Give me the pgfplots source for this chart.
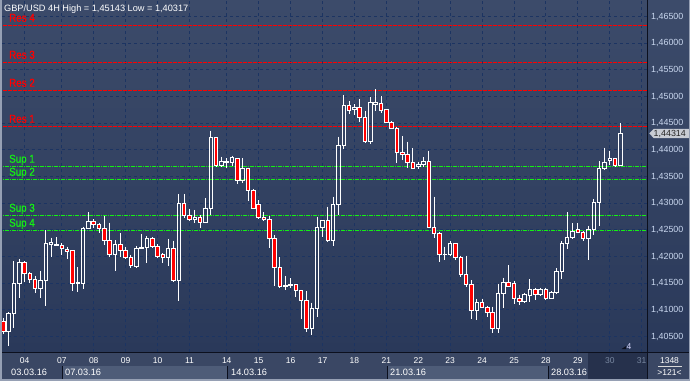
\documentclass[border=0pt]{standalone}
\usepackage{pgfplots}
\pgfplotsset{compat=1.18}
\usepackage{pgfplotstable}
\usepackage{fontspec}
\setmainfont{Liberation Sans}
\newfontfamily\lblfont[FakeStretch=0.86, FakeBold=0.6]{Liberation Sans}
\definecolor{bgtop}{RGB}{60,75,106}
\definecolor{bgbot}{RGB}{42,57,90}
\definecolor{gridc}{RGB}{28,52,98}
\definecolor{lvlred}{RGB}{255,0,0}
\definecolor{lvlgreen}{RGB}{20,240,20}
\definecolor{stripc}{RGB}{58,71,100}
\definecolor{bandc}{RGB}{78,92,120}
\definecolor{futurec}{RGB}{38,49,76}
\definecolor{axlbl}{RGB}{200,214,238}
\definecolor{framec}{RGB}{150,160,180}
\definecolor{sepc}{RGB}{12,16,30}
\definecolor{tagc}{RGB}{200,204,212}
\definecolor{greylbl}{RGB}{120,135,160}

\pgfplotstableread{
i o h l c
0 1.40780 1.40850 1.40550 1.40593
1 1.40593 1.40956 1.40317 1.40938
2 1.40938 1.41918 1.40662 1.41500
3 1.41500 1.41956 1.41230 1.41894
4 1.41894 1.41918 1.41530 1.41688
5 1.41688 1.41718 1.41511 1.41575
6 1.41575 1.41637 1.41313 1.41406
7 1.41406 1.41731 1.41230 1.41562
8 1.41562 1.42500 1.41080 1.42250
9 1.42237 1.42355 1.41999 1.42261
10 1.42218 1.42363 1.42200 1.42237
11 1.42218 1.42261 1.42031 1.42156
12 1.42143 1.42186 1.41956 1.42093
13 1.42106 1.42106 1.41361 1.41500
14 1.41493 1.41800 1.41343 1.41511
15 1.41500 1.42561 1.41393 1.42531
16 1.42531 1.42831 1.42518 1.42668
17 1.42668 1.42700 1.42543 1.42606
18 1.42606 1.42636 1.42438 1.42531
19 1.42531 1.42762 1.42218 1.42299
20 1.42299 1.42636 1.41999 1.42044
21 1.42044 1.42312 1.41736 1.42231
22 1.42231 1.42438 1.41988 1.42106
23 1.42106 1.42175 1.41956 1.41988
24 1.41988 1.42031 1.41781 1.41830
25 1.41811 1.42200 1.41781 1.42156
26 1.42156 1.42425 1.42138 1.42175
27 1.42175 1.42387 1.41875 1.42344
28 1.42344 1.42363 1.42168 1.42186
29 1.42186 1.42237 1.41988 1.41999
30 1.42031 1.42063 1.41875 1.41988
31 1.41988 1.42331 1.41830 1.42156
32 1.42156 1.42299 1.41519 1.41549
33 1.41549 1.43175 1.41174 1.43000
34 1.43000 1.43175 1.42719 1.42768
35 1.42768 1.42893 1.42668 1.42700
36 1.42700 1.42875 1.42625 1.42738
37 1.42738 1.42781 1.42543 1.42636
38 1.42636 1.43094 1.42636 1.42906
39 1.42906 1.44361 1.42781 1.44238
40 1.44238 1.44238 1.43686 1.43705
41 1.43705 1.43874 1.43686 1.43793
42 1.43775 1.43855 1.43668 1.43770
43 1.43769 1.43893 1.43705 1.43855
44 1.43844 1.43844 1.43356 1.43437
45 1.43437 1.43844 1.43375 1.43656
46 1.43656 1.43668 1.43043 1.43231
47 1.43231 1.43268 1.42906 1.42906
48 1.42981 1.43062 1.42706 1.42730
49 1.42738 1.42831 1.42674 1.42700
50 1.42700 1.42762 1.42168 1.42344
51 1.42344 1.42406 1.41455 1.41800
52 1.41800 1.41999 1.41418 1.41436
53 1.41436 1.41637 1.41375 1.41455
54 1.41455 1.41594 1.41406 1.41481
55 1.41481 1.41487 1.41238 1.41361
56 1.41361 1.41375 1.40831 1.41187
57 1.41187 1.41356 1.40593 1.40656
58 1.40656 1.41136 1.40531 1.41031
59 1.41031 1.42749 1.40874 1.42550
60 1.42550 1.42687 1.42374 1.42687
61 1.42687 1.42936 1.42269 1.42299
62 1.42299 1.43124 1.42205 1.42981
63 1.42981 1.44249 1.42781 1.44075
64 1.44075 1.45031 1.44018 1.44825
65 1.44825 1.44918 1.44675 1.44736
66 1.44763 1.44862 1.44656 1.44800
67 1.44800 1.44956 1.44530 1.44613
68 1.44613 1.44731 1.44125 1.44155
69 1.44155 1.44999 1.44106 1.44894
70 1.44862 1.45143 1.44736 1.44894
71 1.44875 1.45012 1.44688 1.44736
72 1.44750 1.44763 1.44500 1.44519
73 1.44519 1.44543 1.44393 1.44406
74 1.44406 1.44436 1.43750 1.43956
75 1.43956 1.44262 1.43812 1.43919
76 1.43919 1.44155 1.43656 1.43769
77 1.43769 1.44031 1.43643 1.43656
78 1.43686 1.43780 1.43638 1.43731
79 1.43731 1.43863 1.43686 1.43780
80 1.43780 1.43981 1.42531 1.42550
81 1.42550 1.43124 1.42344 1.42425
82 1.42425 1.42468 1.41905 1.42044
83 1.42031 1.42186 1.41937 1.42044
84 1.42044 1.42293 1.42021 1.42250
85 1.42250 1.42256 1.41937 1.41988
86 1.41988 1.42018 1.41624 1.41669
87 1.41669 1.42018 1.41436 1.41481
88 1.41481 1.41562 1.40831 1.40986
89 1.40986 1.41200 1.40812 1.41144
90 1.41144 1.41206 1.41031 1.41050
91 1.41050 1.41080 1.40874 1.40949
92 1.40956 1.41061 1.40574 1.40656
93 1.40656 1.41487 1.40574 1.41313
94 1.41313 1.41605 1.41043 1.41519
95 1.41519 1.41843 1.41436 1.41436
96 1.41500 1.41543 1.41112 1.41219
97 1.41219 1.41281 1.41093 1.41155
98 1.41155 1.41324 1.41144 1.41281
99 1.41268 1.41581 1.41155 1.41375
100 1.41375 1.41418 1.41187 1.41281
101 1.41281 1.41418 1.41268 1.41375
102 1.41375 1.41418 1.41187 1.41219
103 1.41219 1.41356 1.41200 1.41331
104 1.41324 1.41781 1.41300 1.41718
105 1.41718 1.42293 1.41581 1.42250
106 1.42250 1.42831 1.42143 1.42363
107 1.42363 1.42625 1.42331 1.42468
108 1.42513 1.42625 1.42456 1.42456
109 1.42456 1.42486 1.42299 1.42344
110 1.42344 1.42575 1.41937 1.42513
111 1.42500 1.43081 1.42406 1.43019
112 1.43019 1.43793 1.42580 1.43656
113 1.43656 1.44043 1.43625 1.43769
114 1.43799 1.43981 1.43718 1.43844
115 1.43844 1.43844 1.43675 1.43718
116 1.43718 1.44500 1.43718 1.44314
}\candles

\tikzset{
  wick/.style={white, line width=1pt},
  bullbody/.style={draw=white, line width=1pt, fill=none},
  bearbody/.style={draw=white, line width=1pt, fill=red},
  resline/.style={lvlred, line width=1pt, dash pattern=on 4pt off 1pt},
  supline/.style={lvlgreen, line width=1pt, dash pattern=on 4pt off 1pt on 1pt off 1pt},
  lvllbl/.style={anchor=base west, inner sep=0pt, yshift=3.8pt, font=\lblfont\fontsize{11.4}{12}\selectfont},
}

\begin{document}
\begin{tikzpicture}[x=1pt,y=1pt]
\useasboundingbox (0,0) rectangle (690,381);
% bottom strip and right strip
\fill[stripc] (0,0) rectangle (690,29);
\shade[top color=bgtop,bottom color=bgbot] (647,29) rectangle (690,381);
\fill[bandc] (62,1.7) rectangle (227,15);
\fill[bandc] (387,1.7) rectangle (548,15);
\fill[futurec] (588,1.7) rectangle (647,28.5);
\foreach \xx in {62,227,387,548} {\draw[sepc, line width=0.6pt] (\xx,1.7) -- (\xx,15);}

\begin{axis}[
  at={(2pt,29pt)}, anchor=south west,
  width=645pt, height=352pt, scale only axis,
  xmin=-0.2444, xmax=120.996, ymin=1.40212, ymax=1.46812,
  enlargelimits=false,
  axis line style={draw=none},
  tick style={draw=none}, major tick length=0pt,
  axis background/.style={top color=bgtop, bottom color=bgbot},
  grid=major,
  major grid style={gridc, line width=1pt, dash pattern=on 3pt off 3pt},
  xtick={4,11,17,23,29,35,42,48,54,60,66,72,78,84,90,96,102,108,114,120},
  xticklabels={04,07,08,09,10,11,14,15,16,17,18,21,22,23,24,25,28,29,\textcolor{greylbl}{30},\textcolor{greylbl}{31}},
  xticklabel style={anchor=base, yshift=-11.3pt, inner sep=0pt, text=white, font=\fontsize{8.5}{9}\selectfont},
  ytick={1.405,1.410,1.415,1.420,1.425,1.430,1.435,1.440,1.445,1.450,1.455,1.460,1.465},
  scaled y ticks=false,
  yticklabel pos=right,
  yticklabel style={/pgf/number format/fixed, /pgf/number format/fixed zerofill,
    /pgf/number format/precision=5, /pgf/number format/use comma,
    /pgf/number format/assume math mode=true,
    anchor=west, xshift=4pt, inner sep=0pt, text=axlbl, font=\fontsize{8.9}{9}\selectfont},
]
% support / resistance levels
\addplot[resline] coordinates {(-1,1.46334) (122,1.46334)};
\addplot[resline] coordinates {(-1,1.45640) (122,1.45640)};
\addplot[resline] coordinates {(-1,1.45115) (122,1.45115)};
\addplot[resline] coordinates {(-1,1.44440) (122,1.44440)};
\addplot[supline] coordinates {(-1,1.43690) (122,1.43690)};
\addplot[supline] coordinates {(-1,1.43446) (122,1.43446)};
\addplot[supline] coordinates {(-1,1.42771) (122,1.42771)};
\addplot[supline] coordinates {(-1,1.42490) (122,1.42490)};
\node[lvllbl, text=lvlred] at (axis cs:1.07,1.46334) {Res 4};
\node[lvllbl, text=lvlred] at (axis cs:1.07,1.45640) {Res 3};
\node[lvllbl, text=lvlred] at (axis cs:1.07,1.45115) {Res 2};
\node[lvllbl, text=lvlred] at (axis cs:1.07,1.44440) {Res 1};
\node[lvllbl, text=lvlgreen] at (axis cs:1.07,1.43690) {Sup 1};
\node[lvllbl, text=lvlgreen] at (axis cs:1.07,1.43446) {Sup 2};
\node[lvllbl, text=lvlgreen] at (axis cs:1.07,1.42771) {Sup 3};
\node[lvllbl, text=lvlgreen] at (axis cs:1.07,1.42490) {Sup 4};
% candles
\pgfplotsinvokeforeach{0,...,116}{%
  \pgfplotstablegetelem{#1}{o}\of{\candles}\let\co\pgfplotsretval
  \pgfplotstablegetelem{#1}{h}\of{\candles}\let\ch\pgfplotsretval
  \pgfplotstablegetelem{#1}{l}\of{\candles}\let\cl\pgfplotsretval
  \pgfplotstablegetelem{#1}{c}\of{\candles}\let\cc\pgfplotsretval
  \pgfmathtruncatemacro\isbull{(\cc>=\co) ? 1 : 0}%
  \ifnum\isbull=1
    \let\btop\cc \let\bbot\co \def\bstyle{bullbody}%
  \else
    \let\btop\co \let\bbot\cc \def\bstyle{bearbody}%
  \fi
  \pgfmathsetmacro\xl{#1-0.33}\pgfmathsetmacro\xr{#1+0.33}%
  \edef\temp{\noexpand\draw[wick] (axis cs:#1,\ch) -- (axis cs:#1,\btop);
    \noexpand\draw[wick] (axis cs:#1,\bbot) -- (axis cs:#1,\cl);
    \noexpand\draw[\bstyle] (axis cs:\xl,\bbot) rectangle (axis cs:\xr,\btop);}%
  \temp
}
\end{axis}

% separators
\draw[sepc, line width=1pt] (0,28.6) -- (690,28.6);
\draw[sepc, line width=1pt] (647.3,0) -- (647.3,381);
% date labels
\foreach \xx/\tt in {11/03.03.16,65/07.03.16,231/14.03.16,390/21.03.16,551/28.03.16}
  {\node[anchor=base west, inner sep=0pt, text=white, font=\fontsize{9.2}{10}\selectfont] at (\xx,5.7) {\tt};}
% bottom right box
\node[inner sep=0pt, anchor=base, text=white, font=\fontsize{8.5}{9}\selectfont] at (669.5,17.7) {1348};
\draw[white!85!black, line width=0.8pt] (658,15) -- (682,15);
\node[inner sep=0pt, anchor=base, text=white, font=\fontsize{8.5}{9}\selectfont] at (669.5,6) {>121<};
% price tag
\fill[tagc] (649.3,247.6) -- (653.8,252.2) -- (689,252.2) -- (689,242.8) -- (653.8,242.8) -- cycle;
\node[inner sep=0pt, anchor=west, text=black!85, font=\fontsize{8.9}{9}\selectfont] at (653.5,247.4) {1,44314};
% bar count marker
\fill[sepc] (621.5,32) -- (626,32) -- (626,35) -- cycle;
\node[inner sep=0pt, anchor=base west, text=white!85!blue, font=\fontsize{8.5}{9}\selectfont] at (626.3,32) {4};
% title
\node[anchor=base west, inner sep=0pt, text=white, font=\fontsize{9.2}{10}\selectfont] at (4,369.3) {GBP/USD 4H High = 1,45143 Low = 1,40317};
% frame
\fill[framec] (0,0) rectangle (2,381);
\fill[framec] (0,0) rectangle (690,1.7);
\fill[framec] (688.6,0) rectangle (690,381);
\end{tikzpicture}
\end{document}
